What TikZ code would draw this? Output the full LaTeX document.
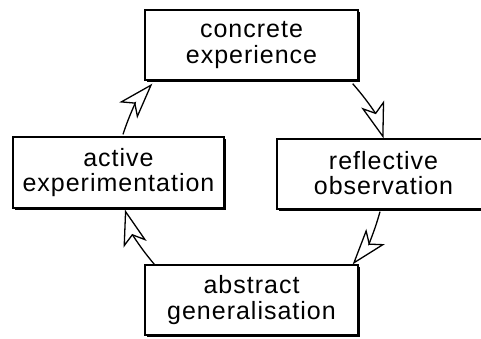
\documentclass[tikz,border=0pt]{standalone}
\usepackage{fontspec}
\setmainfont{Liberation Sans}[LetterSpace=4]
\usetikzlibrary{arrows.meta,shadows}
\begin{document}
\begin{tikzpicture}[x=1pt,y=-1pt,
  stagebox/.style={draw=black,line width=1.3pt,fill=white,
    align=center,inner sep=0pt,
    font=\fontsize{25}{25.5}\selectfont,
    execute at begin node=\rule{0pt}{28pt},
    execute at end node=\rule[-2pt]{0pt}{2pt},
    drop shadow={shadow xshift=1.6pt,shadow yshift=-1.6pt,fill=black,opacity=1}},
  cyclearrow/.style={line width=1.3pt,
    -{Stealth[open,length=36pt,width=24pt,inset=9pt]}}]
  \useasboundingbox (0,0) rectangle (481,338);
  \clip (0,0) rectangle (481,338);
  % the four stages of the learning cycle
  \node[stagebox,minimum width=213pt,minimum height=70pt] (ce) at (251.5,45)
    {concrete\\experience};
  \node[stagebox,minimum width=213pt,minimum height=70pt] (ro) at (383.5,174)
    {reflective\\observation};
  \node[stagebox,minimum width=213pt,minimum height=70pt] (ag) at (251.5,300)
    {abstract\\generalisation};
  \node[stagebox,minimum width=211pt,minimum height=71pt] (ae) at (118.5,172.5)
    {active\\experimentation};
  % clockwise arrows between the stages
  \draw[cyclearrow] ([xshift=-6pt,yshift=-3pt]ce.south east) to[bend left=12] (ro.north);
  \draw[cyclearrow] ([xshift=-3.5pt,yshift=-2pt]ro.south) to[bend left=12] ([xshift=-6pt]ag.north east);
  \draw[cyclearrow] ([xshift=10pt]ag.north west) to[bend left=12] ([xshift=6.5pt,yshift=-1pt]ae.south);
  \draw[cyclearrow] ([xshift=4.5pt,yshift=2pt]ae.north) to[bend left=12] ([xshift=8pt,yshift=-3pt]ce.south west);
\end{tikzpicture}
\end{document}
